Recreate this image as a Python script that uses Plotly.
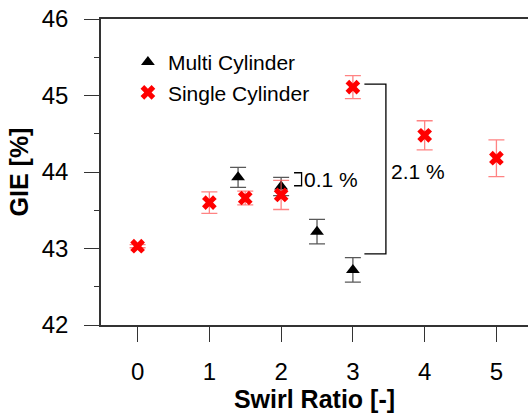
import plotly.graph_objects as go

# Data
multi_x = [1.4, 2.0, 2.5, 3.0]
multi_y = [43.93, 43.81, 43.22, 42.72]
multi_err = [0.13, 0.12, 0.16, 0.16]

single_x = [0, 1, 1.5, 2, 3, 4, 5]
single_y = [43.03, 43.60, 43.66, 43.70, 45.11, 44.48, 44.18]
single_err = [0.02, 0.14, 0.09, 0.19, 0.15, 0.19, 0.24]

x_ticks = [0, 1, 2, 3, 4, 5]
y_ticks = [42, 43, 44, 45, 46]

fig = go.Figure()
fig.add_trace(go.Scatter(
    x=multi_x, y=multi_y, mode="markers", name="Multi Cylinder",
    marker=dict(symbol="triangle-up", size=12, color="black"),
    error_y=dict(type="data", array=multi_err, color="rgba(60,60,60,0.85)",
                 thickness=1.3, width=8),
))
fig.add_trace(go.Scatter(
    x=single_x, y=single_y, mode="markers", name="Single Cylinder",
    marker=dict(symbol="x", size=13, color="#ff0000", line=dict(width=0)),
    error_y=dict(type="data", array=single_err, color="rgba(255,90,90,0.75)",
                 thickness=1.3, width=8),
))

# brackets
line_style = dict(color="black", width=1.3)
fig.add_shape(type="path", xref="x", yref="y",
              path="M 3.16 45.15 L 3.46 45.15 L 3.46 42.93 L 3.16 42.93",
              line=line_style)
fig.add_shape(type="path", xref="x", yref="y",
              path="M 2.18 43.99 L 2.285 43.99 L 2.285 43.82 L 2.18 43.82",
              line=line_style)
fig.add_annotation(x=3.50, y=44.01, xref="x", yref="y", text="2.1 %",
                   showarrow=False, xanchor="left", yanchor="middle",
                   font=dict(size=21, color="black"))
fig.add_annotation(x=2.29, y=43.90, xref="x", yref="y", text="0.1 %",
                   showarrow=False, xanchor="left", yanchor="middle",
                   font=dict(size=21, color="black"))

fig.update_layout(
    width=528, height=418,
    margin=dict(l=101, r=0, t=19, b=93),
    paper_bgcolor="white", plot_bgcolor="white",
    font=dict(family="Liberation Sans, Arial, sans-serif", color="black"),
    showlegend=True,
    legend=dict(x=0.063, y=0.925, xanchor="left", yanchor="top",
                bgcolor="rgba(0,0,0,0)", font=dict(size=21),
                tracegroupgap=0, itemwidth=30),
)
fig.update_xaxes(
    range=[-0.51, 5.44], tickvals=x_ticks, ticktext=[str(v) for v in x_ticks],
    showgrid=False, zeroline=False, showline=True, mirror=True,
    linecolor="#333333", linewidth=1.5,
    ticks="outside", ticklen=15, tickcolor="#333333", tickwidth=1.3,
    tickfont=dict(size=24), ticklabelstandoff=9,
    title=dict(text="<b>Swirl Ratio [-]</b>", font=dict(size=25), standoff=0),
)
fig.update_yaxes(
    range=[42, 46], tickvals=y_ticks, ticktext=[str(v) for v in y_ticks],
    showgrid=False, zeroline=False, showline=True, mirror=False,
    linecolor="#333333", linewidth=1.5,
    ticks="outside", ticklen=15, tickcolor="#333333", tickwidth=1.3,
    tickfont=dict(size=24), ticklabelstandoff=11,
    minor=dict(dtick=0.5, ticks="outside", ticklen=5, tickcolor="#333333", tickwidth=1.3),
    title=dict(text="<b>GIE [%]</b>", font=dict(size=25), standoff=6),
)

fig.write_html("out.html")
